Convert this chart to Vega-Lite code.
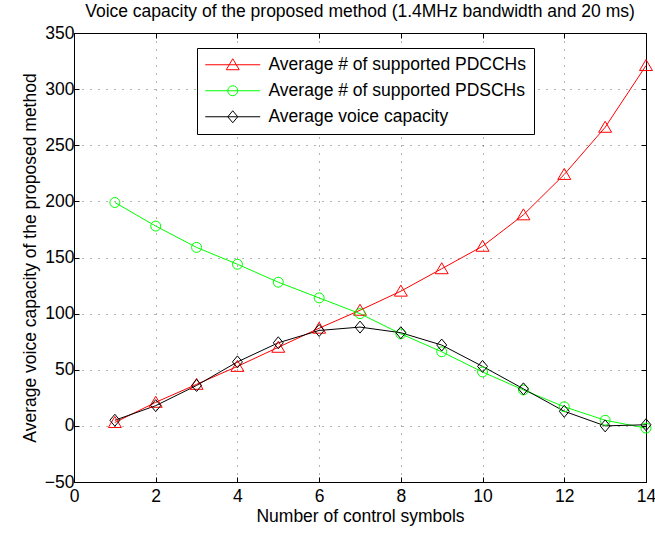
{
  "$schema": "https://vega.github.io/schema/vega-lite/v6.json",
  "width": 572,
  "height": 449,
  "autosize": {"type": "none"},
  "padding": {"left": 74, "top": 33, "right": 9, "bottom": 51},
  "title": {"text": "Voice capacity of the proposed method (1.4MHz bandwidth and 20 ms)", "fontSize": 17.5, "fontWeight": "normal", "font": "Liberation Sans", "color": "black", "anchor": "middle", "offset": 4},
  "config": {
    "font": "Liberation Sans",
    "view": {"stroke": "black", "strokeWidth": 1},
    "axis": {"labelFont": "Liberation Sans", "labelFontSize": 17.5, "labelColor": "black", "titleFont": "Liberation Sans", "titleFontSize": 17.5, "titleFontWeight": "normal", "titleColor": "black", "domainColor": "black", "tickColor": "black", "tickSize": -5, "gridColor": "black", "gridOpacity": 0.6, "gridDash": [1, 7], "gridWidth": 1},
    "legend": {"orient": "none", "legendX": 123, "legendY": 15, "title": null, "fillColor": "white", "strokeColor": "black", "padding": 8, "labelFont": "Liberation Sans", "labelFontSize": 17.5, "labelColor": "black", "labelOffset": 27, "symbolOffset": 19, "symbolSize": 144, "symbolStrokeWidth": 1, "rowPadding": 7, "labelLimit": 400}
  },
  "resolve": {"scale": {"shape": "independent"}, "legend": {"color": "independent", "shape": "independent"}},
  "data": {"values": [
    {"x": 1, "series": "Average # of supported PDCCHs", "value": 3},
    {"x": 2, "series": "Average # of supported PDCCHs", "value": 21},
    {"x": 3, "series": "Average # of supported PDCCHs", "value": 37},
    {"x": 4, "series": "Average # of supported PDCCHs", "value": 53},
    {"x": 5, "series": "Average # of supported PDCCHs", "value": 70},
    {"x": 6, "series": "Average # of supported PDCCHs", "value": 87},
    {"x": 7, "series": "Average # of supported PDCCHs", "value": 103},
    {"x": 8, "series": "Average # of supported PDCCHs", "value": 120},
    {"x": 9, "series": "Average # of supported PDCCHs", "value": 140},
    {"x": 10, "series": "Average # of supported PDCCHs", "value": 160},
    {"x": 11, "series": "Average # of supported PDCCHs", "value": 188},
    {"x": 12, "series": "Average # of supported PDCCHs", "value": 224},
    {"x": 13, "series": "Average # of supported PDCCHs", "value": 266},
    {"x": 14, "series": "Average # of supported PDCCHs", "value": 321},
    {"x": 1, "series": "Average # of supported PDSCHs", "value": 199},
    {"x": 2, "series": "Average # of supported PDSCHs", "value": 178},
    {"x": 3, "series": "Average # of supported PDSCHs", "value": 159},
    {"x": 4, "series": "Average # of supported PDSCHs", "value": 144},
    {"x": 5, "series": "Average # of supported PDSCHs", "value": 128},
    {"x": 6, "series": "Average # of supported PDSCHs", "value": 114},
    {"x": 7, "series": "Average # of supported PDSCHs", "value": 100},
    {"x": 8, "series": "Average # of supported PDSCHs", "value": 82},
    {"x": 9, "series": "Average # of supported PDSCHs", "value": 66},
    {"x": 10, "series": "Average # of supported PDSCHs", "value": 48},
    {"x": 11, "series": "Average # of supported PDSCHs", "value": 32},
    {"x": 12, "series": "Average # of supported PDSCHs", "value": 17},
    {"x": 13, "series": "Average # of supported PDSCHs", "value": 5},
    {"x": 14, "series": "Average # of supported PDSCHs", "value": -2},
    {"x": 1, "series": "Average voice capacity", "value": 5},
    {"x": 2, "series": "Average voice capacity", "value": 18},
    {"x": 3, "series": "Average voice capacity", "value": 36},
    {"x": 4, "series": "Average voice capacity", "value": 57},
    {"x": 5, "series": "Average voice capacity", "value": 74},
    {"x": 6, "series": "Average voice capacity", "value": 85},
    {"x": 7, "series": "Average voice capacity", "value": 88},
    {"x": 8, "series": "Average voice capacity", "value": 83},
    {"x": 9, "series": "Average voice capacity", "value": 72},
    {"x": 10, "series": "Average voice capacity", "value": 53},
    {"x": 11, "series": "Average voice capacity", "value": 33},
    {"x": 12, "series": "Average voice capacity", "value": 13},
    {"x": 13, "series": "Average voice capacity", "value": 0},
    {"x": 14, "series": "Average voice capacity", "value": 1}
  ]},
  "layer": [
    {
      "mark": {"type": "line", "strokeWidth": 1},
      "encoding": {
        "x": {"field": "x", "type": "quantitative", "scale": {"domain": [0, 14], "nice": false, "zero": false},
              "axis": {"orient": "bottom", "values": [0, 2, 4, 6, 8, 10, 12, 14], "grid": true, "labelPadding": 10, "title": "Number of control symbols", "titlePadding": 3, "labelFlush": false, "labelOverlap": false}},
        "y": {"field": "value", "type": "quantitative", "scale": {"domain": [-50, 350], "nice": false, "zero": false},
              "axis": {"orient": "left", "values": [-50, 0, 50, 100, 150, 200, 250, 300, 350], "grid": true, "labelPadding": 5, "title": "Average voice capacity of the proposed method", "titlePadding": 5, "labelFlush": false, "labelOverlap": false}},
        "color": {"field": "series", "type": "nominal", "scale": {"domain": ["Average # of supported PDCCHs", "Average # of supported PDSCHs", "Average voice capacity"], "range": ["#ff0000", "#00ff00", "#000000"]}, "legend": null},
        "detail": {"field": "series"}
      }
    },
    {
      "mark": {"type": "point", "filled": false, "size": 144, "strokeWidth": 1, "opacity": 1},
      "encoding": {
        "x": {"field": "x", "type": "quantitative", "axis": {"orient": "top", "values": [0, 2, 4, 6, 8, 10, 12, 14], "labels": false, "domain": false, "grid": false, "title": null}},
        "y": {"field": "value", "type": "quantitative", "axis": {"orient": "right", "values": [-50, 0, 50, 100, 150, 200, 250, 300, 350], "labels": false, "domain": false, "grid": false, "title": null}},
        "color": {"field": "series", "type": "nominal", "legend": null},
        "shape": {"field": "series", "type": "nominal", "legend": null, "scale": {"domain": ["Average # of supported PDCCHs", "Average # of supported PDSCHs", "Average voice capacity"], "range": ["M0,-1L1.08,0.83L-1.08,0.83Z", "M0.83,0A0.83,0.83,0,1,1,-0.83,0A0.83,0.83,0,1,1,0.83,0Z", "M0,-1L0.83,0L0,1L-0.83,0Z"]}}
      }
    },
    {
      "transform": [{"filter": "datum.x > 1000"}],
      "mark": {"type": "point", "filled": false, "size": 144, "strokeWidth": 1, "opacity": 1},
      "encoding": {
        "color": {"field": "series", "type": "nominal"},
        "shape": {"field": "series", "type": "nominal", "scale": {"domain": ["Average # of supported PDCCHs", "Average # of supported PDSCHs", "Average voice capacity"], "range": ["M-4.58,0L4.58,0M0,-1L1.08,0.83L-1.08,0.83Z", "M-4.58,0L4.58,0M0.83,0A0.83,0.83,0,1,1,-0.83,0A0.83,0.83,0,1,1,0.83,0Z", "M-4.58,0L4.58,0M0,-1L0.83,0L0,1L-0.83,0Z"]}}
      }
    }
  ]
}
